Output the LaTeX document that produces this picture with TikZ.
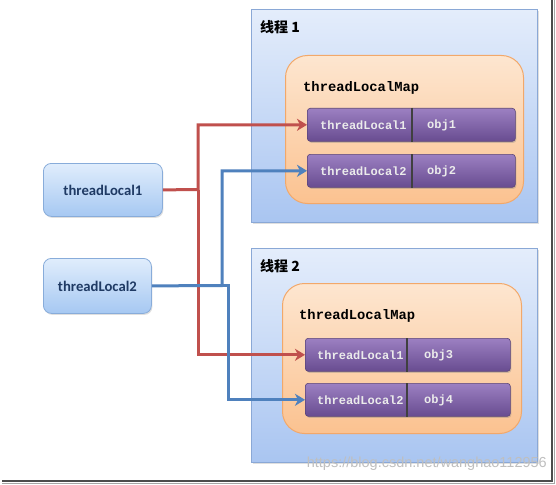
\documentclass[tikz,border=0pt]{standalone}
\usepackage{fontspec}
\setmainfont{Carlito}
\newfontfamily\cjkfont{Noto Sans CJK SC}
\newfontfamily\monofont{Liberation Mono}
\newfontfamily\wmfont{Liberation Sans}
\usetikzlibrary{arrows.meta,shadows}
\definecolor{redline}{HTML}{C0504D}
\definecolor{blueline}{HTML}{4F81BD}
\definecolor{tbtop}{HTML}{E4EDFB}
\definecolor{tbbot}{HTML}{A9C5F1}
\definecolor{tbdraw}{HTML}{8AA8D6}
\definecolor{maptop}{HTML}{FDE6D0}
\definecolor{mapbot}{HTML}{FBC290}
\definecolor{mapdraw}{HTML}{F2A86A}
\definecolor{rowtop}{HTML}{9C80C2}
\definecolor{rowbot}{HTML}{684C90}
\definecolor{rowdraw}{HTML}{5A4478}
\definecolor{lbtop}{HTML}{E0EDFC}
\definecolor{lbbot}{HTML}{A6C8F2}
\definecolor{lbdraw}{HTML}{88ACDA}
\definecolor{lbtext}{HTML}{1F3A64}
\tikzset{
  threadbox/.style={draw=tbdraw, line width=0.8pt, top color=tbtop, bottom color=tbbot,
    anchor=north west, inner sep=0pt, drop shadow={shadow xshift=1.5pt, shadow yshift=-1.5pt, opacity=0.25}},
  mapbox/.style={draw=mapdraw, line width=1pt, top color=maptop, bottom color=mapbot,
    rounded corners=22pt, anchor=north west, inner sep=0pt},
  rowbox/.style={draw=rowdraw, line width=0.6pt, top color=rowtop, bottom color=rowbot,
    rounded corners=3pt, anchor=north west, inner sep=0pt,
    drop shadow={shadow xshift=1pt, shadow yshift=-1.5pt, opacity=0.35}},
  leftbox/.style={draw=lbdraw, line width=0.8pt, top color=lbtop, bottom color=lbbot,
    rounded corners=8pt, anchor=north west, inner sep=0pt,
    drop shadow={shadow xshift=1pt, shadow yshift=-1.5pt, opacity=0.25}},
  lefttext/.style={font=\fontsize{14.7}{16}\selectfont\bfseries, text=lbtext},
  rowtext/.style={font=\monofont\fontsize{12}{14}\selectfont\bfseries, text=white!92!black, anchor=west, inner sep=0pt},
  maptext/.style={font=\monofont\fontsize{13.8}{15}\selectfont\bfseries, text=black, anchor=west, inner sep=0pt},
  titletext/.style={font=\cjkfont\fontsize{14}{16}\selectfont\bfseries, text=black, anchor=west, inner sep=0pt},
  divider/.style={draw=black!75, line width=2pt},
  redarrow/.style={draw=redline, line width=3pt, -{Stealth[length=10pt,width=12pt,inset=3pt]}},
  bluearrow/.style={draw=blueline, line width=3pt, -{Stealth[length=10pt,width=12pt,inset=3pt]}},
}
\begin{document}
\begin{tikzpicture}[x=1pt,y=-1pt]
\useasboundingbox (0,0) rectangle (556,484);
\fill[white] (0,0) rectangle (556,484);
% frame shadow of the screenshot
\draw[black!70, line width=2.5pt] (552,0) -- (552,481) -- (2,481);
\draw[black!35, line width=1pt] (554.3,0) -- (554.3,483.3) -- (2,483.3);

% thread boxes
\node[threadbox, minimum width=286pt, minimum height=213pt] (t1) at (251,9) {};
\node[threadbox, minimum width=286pt, minimum height=214pt] (t2) at (251,248) {};
\node[titletext] (t1lab) at (260,27) {线程 1};
\node[titletext] (t2lab) at (260,266) {线程 2};

% maps
\node[mapbox, minimum width=238pt, minimum height=148pt] (m1) at (285,55) {};
\node[mapbox, minimum width=239pt, minimum height=150pt] (m2) at (282,283) {};
\node[maptext] (m1lab) at (303,88) {threadLocalMap};
\node[maptext] (m2lab) at (299,316) {threadLocalMap};

% rows
\node[rowbox, minimum width=208pt, minimum height=33pt] (r11) at (307,108) {};
\node[rowbox, minimum width=208pt, minimum height=33pt] (r12) at (307,154) {};
\node[rowbox, minimum width=205pt, minimum height=33pt] (r21) at (305,338) {};
\node[rowbox, minimum width=205pt, minimum height=33pt] (r22) at (305,383) {};
\coordinate (d1) at (412,0);
\coordinate (d2) at (407,0);
\draw[divider] (r11.north -| d1) -- (r11.south -| d1);
\draw[divider] (r12.north -| d1) -- (r12.south -| d1);
\draw[divider] (r21.north -| d2) -- (r21.south -| d2);
\draw[divider] (r22.north -| d2) -- (r22.south -| d2);
\node[rowtext] (k11) at (320,125) {threadLocal1};
\node[rowtext] (v11) at (427,125) {obj1};
\node[rowtext] (k12) at (320,171) {threadLocal2};
\node[rowtext] (v12) at (427,171) {obj2};
\node[rowtext] (k21) at (317,355) {threadLocal1};
\node[rowtext] (v21) at (424,355) {obj3};
\node[rowtext] (k22) at (317,400) {threadLocal2};
\node[rowtext] (v22) at (424,400) {obj4};

% left boxes
\node[leftbox, minimum width=119pt, minimum height=53pt] (tl1) at (43,163) {};
\node[lefttext] (tl1lab) at (tl1.center) {threadLocal1};
\node[leftbox, minimum width=108pt, minimum height=55pt] (tl2) at (43,258) {};
\node[lefttext] (tl2lab) at (tl2.center) {threadLocal2};

% connectors
\coordinate (rj) at (198,189.5);
\coordinate (bj1) at (222,285.5);
\coordinate (bj2) at (228,285.5);
\draw[redarrow] (tl1.east) -- (rj) |- (r11.west);
\draw[redarrow] (rj) |- (r21.west);
\draw[bluearrow] (tl2.east) -- (bj1) |- (r12.west);
\draw[bluearrow] (bj1) -- (bj2) |- (r22.west);

% watermark
\node[font=\wmfont\fontsize{14.5}{16}\selectfont, text=white!75!black, anchor=east, inner sep=0pt] (wm) at (547,464) {https://blog.csdn.net/wanghao112956};
\end{tikzpicture}
\end{document}
